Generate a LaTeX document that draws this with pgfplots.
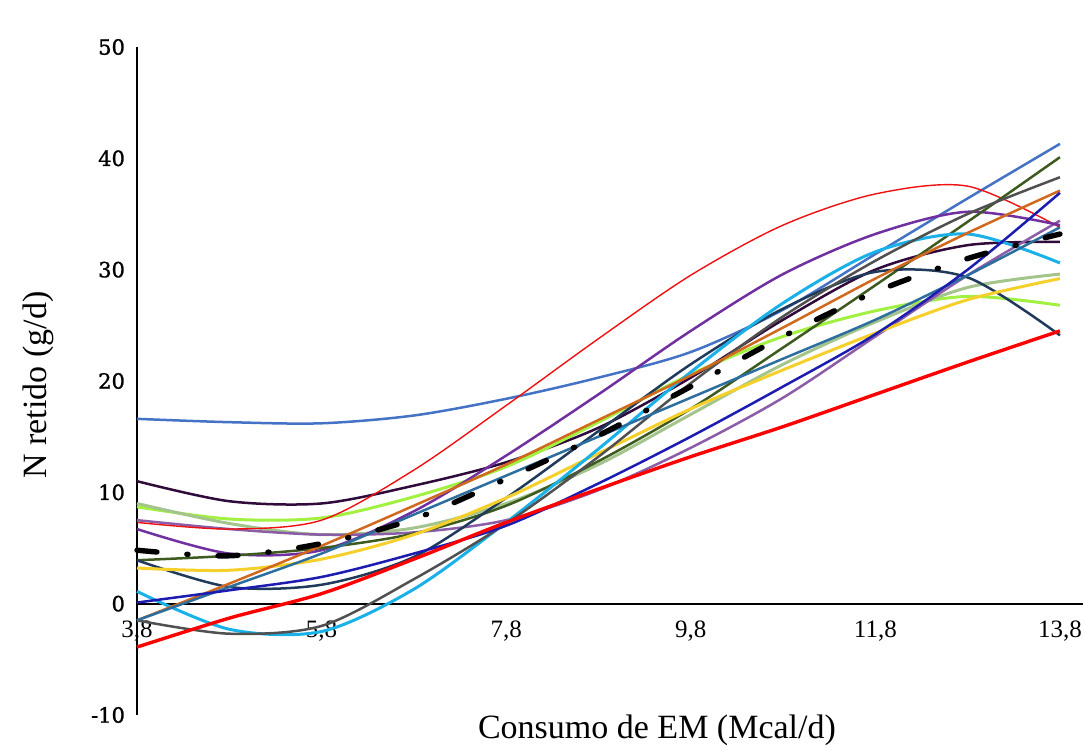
\documentclass[border=0pt]{standalone}
\usepackage{pgfplots}
\usepackage{pgfplotstable}
\pgfplotsset{compat=1.18}
\usepackage{fontspec}
\setmainfont{Liberation Serif}
\newfontfamily\dvserif[FakeBold=1.2]{DejaVu Serif}

\definecolor{csteel}{HTML}{4472C4}
\definecolor{cdpurple}{HTML}{2F0A3A}
\definecolor{clime}{HTML}{A2F040}
\definecolor{csage}{HTML}{A3C48A}
\definecolor{cmauve}{HTML}{8B5CA8}
\definecolor{cviolet}{HTML}{7030A0}
\definecolor{credthin}{HTML}{F01010}
\definecolor{credthick}{HTML}{FF0000}
\definecolor{cdgreen}{HTML}{3D5A1F}
\definecolor{cdslate}{HTML}{203A5C}
\definecolor{cyellow}{HTML}{F5D02A}
\definecolor{ccyan}{HTML}{1AB0E8}
\definecolor{cdgray}{HTML}{505050}
\definecolor{corange}{HTML}{D0681E}
\definecolor{cteal}{HTML}{2C6E9E}
\definecolor{cnavy}{HTML}{1C1CB0}

\pgfplotstableread{
x    steel dpurple lime sage mauve redthin violet avg  dgreen dslate yellow cyan dgray orange teal navy redthick
3.8  16.6  11.0    8.7  9.0  7.5   7.3     6.7    4.8  3.9    3.9    3.2    1.1  -1.5  -1.5   -1.5 0.1  -3.9
4.8  16.3  9.2     7.6  7.2  6.7   6.7     4.5    4.3  4.3    1.5    3.0    -2.3 -2.7  1.8    1.5  1.2  -1.3
5.8  16.2  9.0     7.7  6.2  6.2   7.5     4.8    5.4  5.0    1.7    4.0    -2.5 -2.0  5.2    4.5  2.4  0.9
6.8  16.9  10.6    9.6  6.8  6.4   12.0    8.3    7.6  6.3    4.2    6.2    1.3  2.2   8.8    8.0  4.5  4.0
7.8  18.4  12.7    12.3 9.0  7.5   17.8    13.3   11.2 8.8    9.5    9.5    7.3  7.2   12.5   11.5 7.0  7.3
8.8  20.3  15.8    16.3 12.5 10.2  23.8    18.8   15.1 12.8   15.5   13.5   13.9 13.2  16.5   15.0 10.8 10.3
9.8  22.6  20.3    20.6 17.0 14.0  29.5    24.5   19.5 17.5   21.5   17.5   20.8 19.8  20.5   18.5 15.0 13.2
10.8 26.4  25.5    24.0 21.5 18.5  34.0    29.6   24.0 23.0   26.5   21.0   27.0 25.8  24.8   22.0 19.5 15.9
11.8 31.4  30.0    26.3 25.3 24.0  36.8    33.2   28.0 28.6   29.8   24.3   31.6 30.8  29.2   25.5 24.2 18.8
12.8 36.4  32.2    27.6 28.4 29.5  37.5    35.2   31.0 34.3   29.3   27.3   33.2 35.0  33.3   29.5 30.0 21.7
13.8 41.3  32.5    26.8 29.6 34.4  33.8    34.0   33.2 40.1   24.1   29.2   30.6 38.3  37.1   33.8 36.9 24.5
}\datatable

\begin{document}
\begin{tikzpicture}
\begin{axis}[
  scale only axis,
  width=473pt, height=334pt,
  xmin=3.8, xmax=14.05,
  ymin=-10, ymax=50,
  axis x line*=middle,
  axis y line*=left,
  axis line style={black, line width=0.9pt},
  hide obscured x ticks=false,
  hide obscured y ticks=false,
  xtick={3.8,5.8,7.8,9.8,11.8,13.8},
  xticklabels={{3,8},{5,8},{7,8},{9,8},{11,8},{13,8}},
  ytick={-10,0,10,20,30,40,50},
  yticklabels={-10,0,10,20,30,40,50},
  major tick length=0pt,
  xticklabel style={font=\fontsize{12.5}{14}\selectfont, anchor=north, yshift=-5pt},
  yticklabel style={font=\dvserif\fontsize{10.5}{12}\selectfont, anchor=east, xshift=-2.5pt},
  xlabel={Consumo de EM (Mcal/d)},
  ylabel={N retido (g/d)},
  xlabel style={at={(axis description cs:0.5497,-0.0225)}, anchor=center, font=\fontsize{17}{20}\selectfont},
  ylabel style={at={(axis description cs:-0.1047,0.494)}, anchor=center, font=\fontsize{17}{20}\selectfont},
  every axis plot/.append style={smooth, no markers, line width=1.25pt},
  clip=false,
]
\addplot[csteel] table[x=x,y=steel]{\datatable};
\addplot[cdpurple] table[x=x,y=dpurple]{\datatable};
\addplot[clime, line width=1.5pt] table[x=x,y=lime]{\datatable};
\addplot[csage, line width=1.5pt] table[x=x,y=sage]{\datatable};
\addplot[cmauve] table[x=x,y=mauve]{\datatable};
\addplot[credthin, line width=0.7pt] table[x=x,y=redthin]{\datatable};
\addplot[cviolet] table[x=x,y=violet]{\datatable};
\addplot[cdgreen] table[x=x,y=dgreen]{\datatable};
\addplot[cdslate] table[x=x,y=dslate]{\datatable};
\addplot[cyellow, line width=1.5pt] table[x=x,y=yellow]{\datatable};
\addplot[ccyan, line width=1.5pt] table[x=x,y=cyan]{\datatable};
\addplot[cdgray] table[x=x,y=dgray]{\datatable};
\addplot[corange] table[x=x,y=orange]{\datatable};
\addplot[cteal] table[x=x,y=teal]{\datatable};
\addplot[cnavy] table[x=x,y=navy]{\datatable};
\addplot[credthick, line width=1.7pt] table[x=x,y=redthick]{\datatable};
\addplot[black, line width=2.7pt, line cap=round, dash pattern=on 10pt off 15pt on 0.6pt off 15pt] table[x=x,y=avg]{\datatable};
\end{axis}
\pgfresetboundingbox
\path ([xshift=-68.5pt,yshift=-18pt]current axis.south west) rectangle ([xshift=1pt,yshift=23.5pt]current axis.north east);
\end{tikzpicture}
\end{document}
